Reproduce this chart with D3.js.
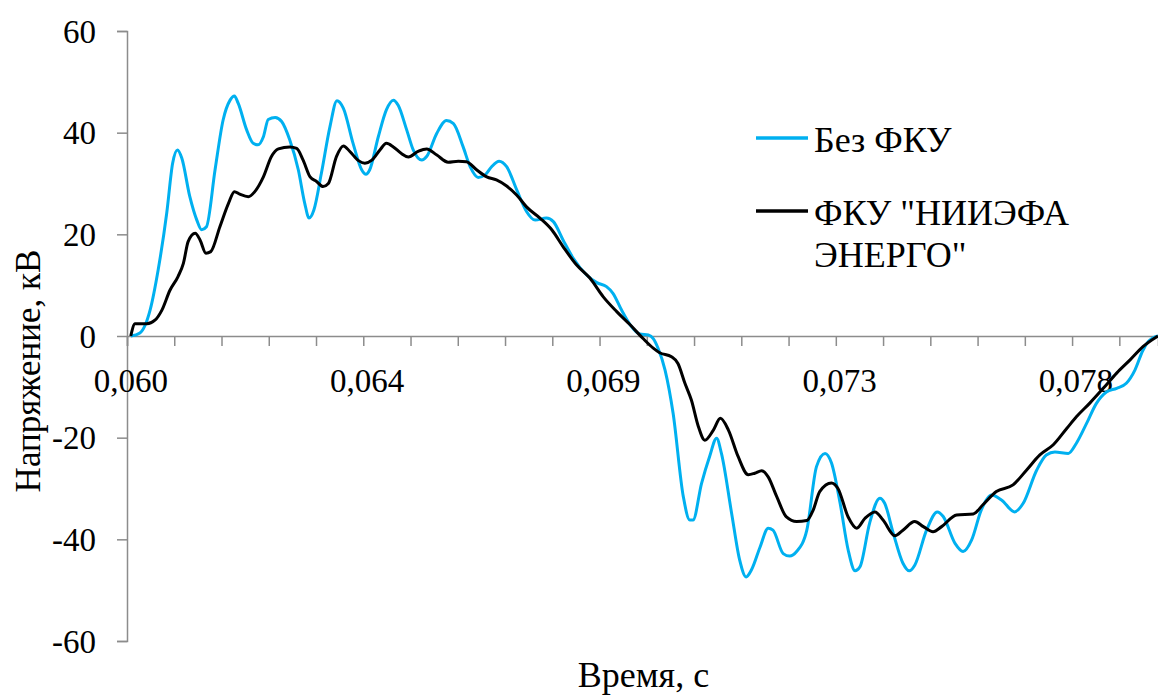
<!DOCTYPE html>
<html>
<head>
<meta charset="utf-8">
<script src="https://cdn.jsdelivr.net/npm/d3@7"></script>
<style>
  html, body { margin: 0; padding: 0; background: #fff; }
  svg { display: block; }
  svg text { font-family: "Liberation Serif", "Times New Roman", Tinos, "DejaVu Serif", "Noto Serif", serif !important; fill: #000; }
</style>
</head>
<body>
<svg id="chart" width="1158" height="698"></svg>
<script>
// ---------------- DATA ----------------
const seriesNames = ["Без ФКУ", "ФКУ \"НИИЭФА ЭНЕРГО\""];

// Series 1: без ФКУ (time, s)
const blueT = [0.06000,0.06017,0.06036,0.06051,0.06067,0.06078,0.06087,0.06095,0.06110,0.06123,0.06132,0.06141,0.06157,0.06172,0.06185,0.06193,0.06200,0.06216,0.06228,0.06237,0.06247,0.06256,0.06269,0.06281,0.06296,0.06312,0.06324,0.06332,0.06341,0.06355,0.06371,0.06384,0.06396,0.06414,0.06430,0.06438,0.06445,0.06461,0.06476,0.06489,0.06498,0.06514,0.06526,0.06542,0.06551,0.06570,0.06588,0.06601,0.06619,0.06632,0.06647,0.06660,0.06672,0.06686,0.06700,0.06719,0.06737,0.06753,0.06774,0.06787,0.06805,0.06824,0.06849,0.06868,0.06886,0.06898,0.06914,0.06930,0.06948,0.06964,0.06973,0.06982,0.06995,0.07010,0.07029,0.07041,0.07047,0.07063,0.07078,0.07091,0.07100,0.07119,0.07134,0.07146,0.07156,0.07172,0.07187,0.07196,0.07215,0.07227,0.07240,0.07259,0.07277,0.07293,0.07305,0.07321,0.07336,0.07349,0.07358,0.07376,0.07395,0.07404,0.07420,0.07438,0.07450,0.07460,0.07482,0.07502,0.07513,0.07535,0.07550,0.07566,0.07584,0.07603,0.07622,0.07646,0.07662,0.07687,0.07705,0.07721,0.07746,0.07761,0.07780,0.07798,0.07817,0.07836,0.07854,0.07870,0.07885,0.07895,0.07913];
// Series 1 voltage, kV
const blueV = [0,0.6,5.1,13,24.2,34,36.6,35,27.4,22.8,20.9,21.5,32.7,42.5,46.4,47.2,45.8,40.5,37.9,37.6,39.2,42.6,43,42.2,38.6,32.7,26.1,23.2,24.8,32,41.2,46.3,44.8,37.9,32.7,31.8,32.7,39.2,44.5,46.4,45.4,40.5,36.6,34.6,35.3,39.9,42.4,41.8,37.2,33.3,31.2,31.7,33.3,34.4,33.3,28.7,24.5,22.8,23.2,22.5,18.9,15.3,12,10.5,9.7,8.4,5.1,2.2,0.4,0.2,-0.5,-2.4,-6.7,-15.2,-31.6,-36.2,-36.2,-29,-23.7,-20.1,-23.1,-34.9,-44.1,-47.4,-46,-41.5,-37.8,-38.2,-42.8,-43.3,-42.4,-38.2,-25.7,-23.1,-25,-32.9,-42.1,-46.2,-45.4,-36.8,-31.9,-32.9,-38.8,-44.7,-46.2,-45.1,-38.2,-34.6,-35.5,-40.8,-42.4,-40.1,-34.2,-31.3,-32.3,-34.6,-32.9,-26.4,-23.4,-22.8,-23.1,-21.1,-17.2,-13.3,-11,-10.3,-9.3,-6.7,-2.8,-1.1,0];

// Series 2: ФКУ "НИИЭФА ЭНЕРГО" (time, s)
const blackT = [0.06000,0.06008,0.06030,0.06045,0.06058,0.06073,0.06088,0.06098,0.06107,0.06120,0.06129,0.06140,0.06149,0.06166,0.06182,0.06193,0.06203,0.06219,0.06231,0.06247,0.06262,0.06275,0.06296,0.06309,0.06321,0.06334,0.06346,0.06358,0.06368,0.06383,0.06396,0.06408,0.06424,0.06436,0.06449,0.06464,0.06476,0.06489,0.06504,0.06517,0.06535,0.06551,0.06570,0.06591,0.06610,0.06625,0.06644,0.06663,0.06681,0.06700,0.06719,0.06737,0.06762,0.06784,0.06805,0.06830,0.06855,0.06880,0.06905,0.06930,0.06954,0.06973,0.06985,0.07007,0.07019,0.07032,0.07044,0.07057,0.07069,0.07085,0.07098,0.07113,0.07131,0.07150,0.07162,0.07175,0.07187,0.07203,0.07221,0.07240,0.07259,0.07271,0.07283,0.07305,0.07317,0.07336,0.07352,0.07367,0.07386,0.07401,0.07423,0.07438,0.07460,0.07476,0.07494,0.07510,0.07538,0.07569,0.07587,0.07612,0.07643,0.07668,0.07693,0.07718,0.07743,0.07761,0.07786,0.07811,0.07836,0.07861,0.07885,0.07913];
// Series 2 voltage, kV
const blackV = [0,2.4,2.4,3.1,5.1,9.0,11.7,14.3,18.6,20.2,18.9,16.3,16.6,21.5,26.1,28.4,27.9,27.4,28.4,31.3,35.3,36.8,37.2,36.9,34.6,31.3,30.4,29.4,30,35.3,37.4,36.3,34.5,34,34.6,36.6,37.9,37.2,35.9,35.2,36.3,36.8,35.6,34.2,34.4,34.3,32.7,31.3,30.7,29.5,27.7,25.4,23.2,20.9,17.6,14,11.4,7.7,4.8,2.2,-0.5,-2.4,-3.3,-4.1,-5.4,-9.3,-12.6,-17.8,-20.5,-18.5,-16.2,-18.5,-23.7,-27.3,-27,-26.5,-27.7,-31.6,-35.6,-36.5,-36.3,-34.2,-30.6,-28.9,-30,-35.6,-37.8,-35.9,-34.6,-36.2,-39.3,-38.2,-36.5,-37.5,-38.5,-37.5,-35.2,-35,-33.2,-30.6,-29.3,-26.4,-23.4,-21.4,-18.2,-15.9,-13.2,-10.3,-7.3,-4.7,-2.1,0];

const yTicks = [-60, -40, -20, 0, 20, 40, 60];
const xLabelTimes = [0.0600, 0.0644, 0.0688, 0.0732, 0.0776];
const xLabelTexts = ["0,060", "0,064", "0,069", "0,073", "0,078"];
const xMinorStep = 0.00088;
const xDomain = [0.05993, 0.07913];
const yDomain = [-60, 60];
const xTitle = "Время, с";
const yTitle = "Напряжение, кВ";

// ---------------- CHART ----------------
(function () {
const svg = d3.select("#chart");
const mL = 127, mR = 1158, mT = 31, mB = 641;
const FS = 35, FT = 33;
const FONT = "'Liberation Serif', 'Times New Roman', Tinos, 'DejaVu Serif', serif";
const axisColor = "#8c8c8c";
const colors = ["#00b0f0", "#000000"];

const x = d3.scaleLinear().domain(xDomain).range([mL, mR]);
const y = d3.scaleLinear().domain(yDomain).range([mB, mT]);

// Y axis
const yAxis = d3.axisLeft(y).tickValues(yTicks).tickSize(10).tickPadding(21)
  .tickFormat(d => String(d));
const gy = svg.append("g").attr("transform", `translate(${mL},0)`).call(yAxis)
  .attr("font-family", FONT).attr("font-size", FT);
gy.select(".domain").attr("stroke", axisColor).attr("stroke-width", 1.5);
gy.selectAll(".tick line").attr("stroke", axisColor).attr("stroke-width", 1.5);
gy.selectAll(".tick text").attr("font-size", FT)
  .attr("font-family", FONT).attr("fill", "#000")
  .attr("dy", "0.34em");

// X axis (at y = 0) with minor ticks
const minorTicks = d3.range(0, 22).map(k => xDomain[0] + k * xMinorStep);
const xAxis = d3.axisBottom(x).tickValues(minorTicks).tickSize(10).tickFormat("");
const gx = svg.append("g").attr("transform", `translate(0,${y(0)})`).call(xAxis);
gx.select(".domain").attr("stroke", axisColor).attr("stroke-width", 1.5);
gx.selectAll(".tick line").attr("stroke", axisColor).attr("stroke-width", 1.5);

// X labels
svg.append("g").attr("font-family", FONT).selectAll("text").data(xLabelTimes).join("text")
  .attr("x", d => x(d))
  .attr("y", y(0) + 56)
  .attr("text-anchor", "middle")
  .attr("font-size", FT)
  .attr("font-family", FONT)
  .text((d, i) => xLabelTexts[i]);

// Lines
const line = d3.line()
  .x(d => x(d[0]))
  .y(d => y(d[1]))
  .curve(d3.curveMonotoneX);

const blueData = blueT.map((t, i) => [t, blueV[i]]);
const blackData = blackT.map((t, i) => [t, blackV[i]]);

svg.append("path").datum(blueData)
  .attr("d", line).attr("fill", "none")
  .attr("stroke", colors[0]).attr("stroke-width", 3).attr("stroke-linejoin", "round");
svg.append("path").datum(blackData)
  .attr("d", line).attr("fill", "none")
  .attr("stroke", colors[1]).attr("stroke-width", 3).attr("stroke-linejoin", "round");

// Axis titles
svg.append("text")
  .attr("x", (mL + mR) / 2 + 1)
  .attr("y", 687)
  .attr("text-anchor", "middle")
  .attr("font-size", 36)
  .attr("font-family", FONT)
  .text(xTitle);

svg.append("text")
  .attr("transform", `translate(40,371) rotate(-90)`)
  .attr("text-anchor", "middle")
  .attr("font-size", FS)
  .attr("font-family", FONT)
  .text(yTitle);

// Legend
const leg = svg.append("g").attr("font-family", FONT);
leg.append("line").attr("x1", 756).attr("x2", 808).attr("y1", 138).attr("y2", 138)
  .attr("stroke", colors[0]).attr("stroke-width", 3.5);
leg.append("text").attr("x", 814).attr("y", 152).attr("font-size", 36)
  .attr("font-family", FONT).text(seriesNames[0]);

leg.append("line").attr("x1", 756).attr("x2", 808).attr("y1", 211).attr("y2", 211)
  .attr("stroke", colors[1]).attr("stroke-width", 3.5);
const t2 = leg.append("text").attr("x", 814).attr("y", 225).attr("font-size", 36)
  .attr("font-family", FONT);
t2.append("tspan").attr("x", 814).text("ФКУ \"НИИЭФА");
t2.append("tspan").attr("x", 814).attr("dy", 41.7).text("ЭНЕРГО\"");
})();
</script>
</body>
</html>
